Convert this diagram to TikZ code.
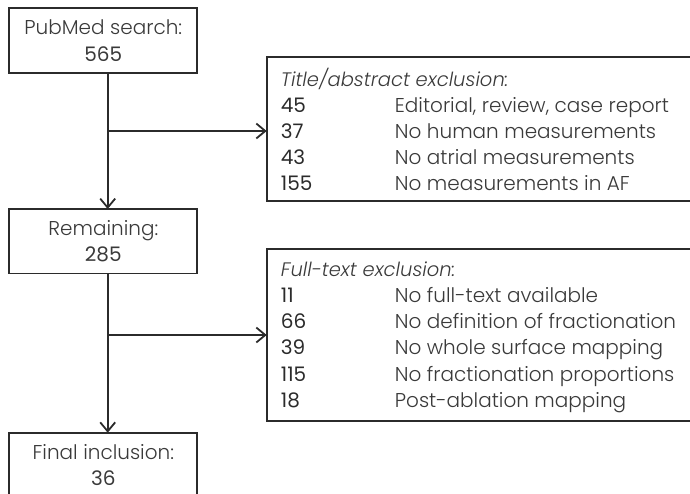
\documentclass[tikz,border=0pt]{standalone}
\usepackage{fontspec}
\setmainfont{Poppins}[UprightFont={* Light}, ItalicFont={* Light Italic}]
\newfontfamily\numfont{Poppins}
\usetikzlibrary{arrows.meta, positioning}
\definecolor{cline}{HTML}{2B2B2B}
\definecolor{ctext}{HTML}{3A3A3A}
\tikzset{
  every picture/.style={line width=1.8pt},
  box/.style={draw=cline, rectangle, outer sep=0pt, minimum width=188pt, minimum height=64.4pt, align=center, text=ctext, font=\fontsize{20}{26.5}\selectfont, anchor=north west},
  excl/.style={draw=cline, outer sep=0pt, minimum width=480pt, anchor=north west},
  head/.style={anchor=base west, inner sep=0pt, font=\fontsize{19.5}{22}\selectfont\itshape, text=ctext},
  num/.style={anchor=base west, inner sep=0pt, font=\numfont\fontsize{20}{22}\selectfont, text=cline},
  reason/.style={anchor=base west, inner sep=0pt, font=\fontsize{20}{22}\selectfont, text=ctext},
  arrow/.style={-{Straight Barb[length=9pt, width=15pt]}, draw=cline},
}

\begin{document}
\begin{tikzpicture}[x=1pt, y=-1pt]
  \useasboundingbox (0,0) rectangle (690,493);
  \clip (0,0) rectangle (690,493);
  % stages down the left
  \node[box] (search) at (9.3,8.3) {PubMed search:\\{\numfont 565}};
  \node[box] (remain) at (9.3,209) {Remaining:\\{\numfont 285}};
  \node[box] (final) at (9.3,432.7) {Final inclusion:\\{\numfont 36}};

  % exclusion lists, running off the right edge
  \node[excl, minimum height=144pt] (abs) at (266.7,56.7) {};
  \node[excl, minimum height=172pt] (full) at (266.7,249) {};
  \node[head] (abshead) at (280,86) {Title/abstract exclusion:};
  \foreach \n/\r [count=\i] in {45/{Editorial, review, case report}, 37/No human measurements, 43/No atrial measurements, 155/No measurements in AF} {
    \node[num] (absn\i) at (280,86+26*\i) {\n};
    \node[reason] (absr\i) at (394,86+26*\i) {\r};
  }
  \node[head] (fullhead) at (280,276) {Full-text exclusion:};
  \foreach \n/\r [count=\i] in {11/No full-text available, 66/No definition of fractionation, 39/No whole surface mapping, 115/No fractionation proportions, 18/Post-ablation mapping} {
    \node[num] (fulln\i) at (280,276+26.3*\i) {\n};
    \node[reason] (fullr\i) at (394,276+26.3*\i) {\r};
  }

  % trunk and side branches
  \coordinate (trunk) at (107.7,0);
  \coordinate (fork1) at (107.7,131);
  \coordinate (fork2) at (107.7,335);
  \draw[arrow] (search.south -| trunk) -- (remain.north -| trunk);
  \draw[arrow] (remain.south -| trunk) -- (final.north -| trunk);
  \draw[arrow] (fork1) -- (fork1 -| abs.west);
  \draw[arrow] (fork2) -- (fork2 -| full.west);
\end{tikzpicture}
\end{document}
